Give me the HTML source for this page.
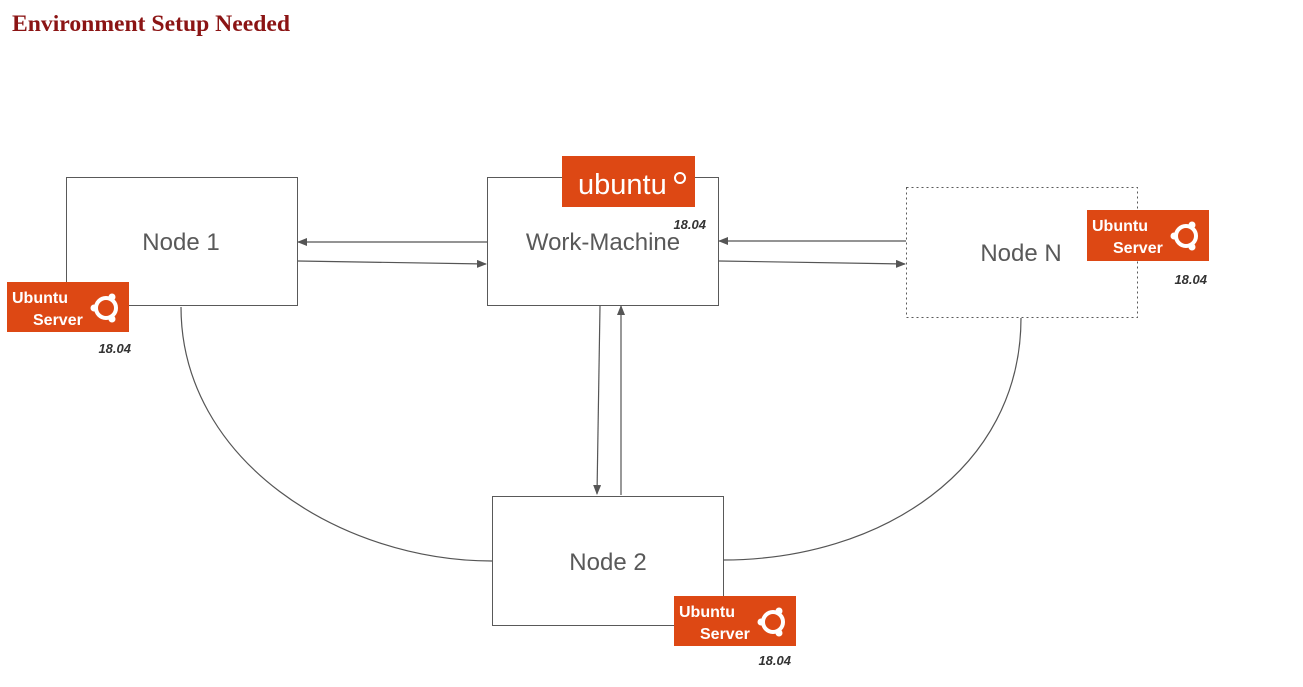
<!DOCTYPE html>
<html><head><meta charset="utf-8"><style>
html,body{margin:0;padding:0;background:#fff;}
svg{display:block;}
</style></head><body>
<svg width="1303" height="687" viewBox="0 0 1303 687" xmlns="http://www.w3.org/2000/svg" font-family="Liberation Sans, sans-serif">
<defs>
<marker id="ah" markerWidth="10" markerHeight="8" refX="9" refY="4" orient="auto" markerUnits="userSpaceOnUse">
<path d="M0,0 L10,4 L0,8 z" fill="#555"/>
</marker>
</defs>
<text x="12" y="31" font-family="Liberation Serif, serif" font-weight="bold" font-size="23" fill="#8b1414" textLength="278" lengthAdjust="spacingAndGlyphs">Environment Setup Needed</text>

<g fill="#fff" stroke="#595959" stroke-width="1">
<rect x="66.5" y="177.5" width="231" height="128"/>
<rect x="487.5" y="177.5" width="231" height="128"/>
<rect x="906.5" y="187.5" width="231" height="130" stroke-dasharray="2,3"/>
<rect x="492.5" y="496.5" width="231" height="129"/>
</g>

<g stroke="#555" stroke-width="1.2" fill="none">
<line x1="487" y1="242" x2="298" y2="242" marker-end="url(#ah)"/>
<line x1="298" y1="261" x2="486" y2="264" marker-end="url(#ah)"/>
<line x1="906" y1="241" x2="719" y2="241" marker-end="url(#ah)"/>
<line x1="719" y1="261" x2="905" y2="264" marker-end="url(#ah)"/>
<line x1="600" y1="306" x2="597" y2="494" marker-end="url(#ah)"/>
<line x1="621" y1="495" x2="621" y2="306" marker-end="url(#ah)"/>
<path d="M181,307 C181,460 340,561 492,561"/>
<path d="M1021,318 C1021,470 880,560 723,560"/>
</g>

<g font-size="24" fill="#595959" text-anchor="middle">
<text x="181" y="250">Node 1</text>
<text x="603" y="250">Work-Machine</text>
<text x="1021" y="261">Node N</text>
<text x="608" y="570">Node 2</text>
</g>

<rect x="562" y="156" width="133" height="51" fill="#dd4814"/>
<text x="578" y="194" font-size="29" fill="#fff">ubuntu</text>
<circle cx="680" cy="178" r="5" fill="none" stroke="#fff" stroke-width="2"/>
<text x="706" y="229" font-size="13" font-weight="bold" font-style="italic" fill="#333" text-anchor="end">18.04</text>

<g transform="translate(7,282)">
<rect width="122" height="50" fill="#dd4814"/>
<text x="5" y="21" font-size="16" font-weight="bold" fill="#fff">Ubuntu</text>
<text x="26" y="43" font-size="16" font-weight="bold" fill="#fff">Server</text>
<circle cx="99" cy="26" r="10" fill="none" stroke="#fff" stroke-width="4"/>
<circle cx="87" cy="26" r="3.5" fill="#fff"/>
<circle cx="105" cy="15" r="3.5" fill="#fff"/>
<circle cx="105" cy="37" r="3.5" fill="#fff"/>
</g>
<text x="131" y="353" font-size="13" font-weight="bold" font-style="italic" fill="#333" text-anchor="end">18.04</text>

<g transform="translate(1087,210)">
<rect width="122" height="51" fill="#dd4814"/>
<text x="5" y="21" font-size="16" font-weight="bold" fill="#fff">Ubuntu</text>
<text x="26" y="43" font-size="16" font-weight="bold" fill="#fff">Server</text>
<circle cx="99" cy="26" r="10" fill="none" stroke="#fff" stroke-width="4"/>
<circle cx="87" cy="26" r="3.5" fill="#fff"/>
<circle cx="105" cy="15" r="3.5" fill="#fff"/>
<circle cx="105" cy="37" r="3.5" fill="#fff"/>
</g>
<text x="1207" y="284" font-size="13" font-weight="bold" font-style="italic" fill="#333" text-anchor="end">18.04</text>

<g transform="translate(674,596)">
<rect width="122" height="50" fill="#dd4814"/>
<text x="5" y="21" font-size="16" font-weight="bold" fill="#fff">Ubuntu</text>
<text x="26" y="43" font-size="16" font-weight="bold" fill="#fff">Server</text>
<circle cx="99" cy="26" r="10" fill="none" stroke="#fff" stroke-width="4"/>
<circle cx="87" cy="26" r="3.5" fill="#fff"/>
<circle cx="105" cy="15" r="3.5" fill="#fff"/>
<circle cx="105" cy="37" r="3.5" fill="#fff"/>
</g>
<text x="791" y="665" font-size="13" font-weight="bold" font-style="italic" fill="#333" text-anchor="end">18.04</text>
</svg>
</body></html>
